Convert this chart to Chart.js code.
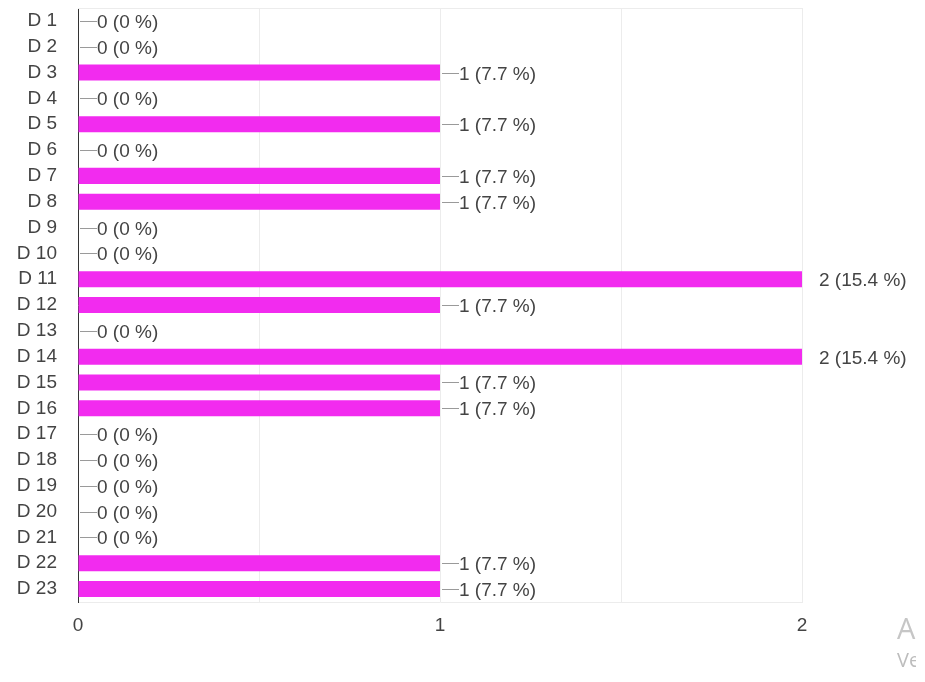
<!DOCTYPE html>
<html>
<head>
<meta charset="utf-8">
<script src="https://cdn.jsdelivr.net/npm/chart.js@4/dist/chart.umd.min.js"></script>
<style>
  html, body { margin: 0; padding: 0; background: #fff; overflow: hidden; }
  #wrap { position: relative; width: 925px; height: 682px; }
  #mark { position: absolute; left: 897px; top: 610px; width: 19px; height: 72px; overflow: hidden;
          font-family: "Open Sans", "DejaVu Sans", sans-serif; white-space: nowrap; }
  #mark .a { font-size: 29px; color: #c6c6c6; line-height: 36px; }
  #mark .b { font-size: 20px; color: #bdbdbd; line-height: 28px; }
</style>
</head>
<body>
<div id="wrap">
  <canvas id="c" width="925" height="682"></canvas>
  <div id="mark"><div class="a">Activar Windows</div><div class="b">Ve a Configuración para activar Windows.</div></div>
</div>
<script>
// Responses per option
const categories = ['D 1','D 2','D 3','D 4','D 5','D 6','D 7','D 8','D 9','D 10','D 11','D 12',
                    'D 13','D 14','D 15','D 16','D 17','D 18','D 19','D 20','D 21','D 22','D 23'];
const counts = [0,0,1,0,1,0,1,1,0,0,2,1,0,2,1,1,0,0,0,0,0,1,1];
const xTickValues = [0, 1, 2];

const total = counts.reduce((a, b) => a + b, 0);
const FAMILY = '"Liberation Sans", Arial, sans-serif';
const FONT = '19px ' + FAMILY;
const TEXT = '#444444';

function pctLabel(v) {
  const p = Math.round(v / total * 1000) / 10;
  return v + ' (' + p + ' %)';
}

// Value labels with short leader lines, plus top frame line
const valueLabels = {
  id: 'valueLabels',
  beforeDatasetsDraw(chart) {
    const { ctx, chartArea } = chart;
    ctx.save();
    ctx.strokeStyle = '#ececec';
    ctx.lineWidth = 1;
    ctx.beginPath();
    ctx.moveTo(chartArea.left, chartArea.top + 0.5);
    ctx.lineTo(chartArea.right, chartArea.top + 0.5);
    ctx.stroke();
    ctx.restore();
  },
  afterDatasetsDraw(chart) {
    const { ctx, chartArea } = chart;
    const meta = chart.getDatasetMeta(0);
    ctx.save();
    ctx.font = FONT;
    ctx.textBaseline = 'middle';
    ctx.textAlign = 'left';
    meta.data.forEach((el, i) => {
      const v = counts[i];
      const x = el.x, y = Math.round(el.y) + 0.5;
      if (x >= chartArea.right - 1) {
        ctx.fillStyle = TEXT;
        ctx.fillText(pctLabel(v), x + 17, y + 1);
      } else {
        ctx.strokeStyle = '#9a9a9a';
        ctx.lineWidth = 1;
        ctx.beginPath();
        ctx.moveTo(x + 2, y);
        ctx.lineTo(x + 19, y);
        ctx.stroke();
        ctx.fillStyle = TEXT;
        ctx.fillText(pctLabel(v), x + 19, y + 1);
      }
    });
    ctx.restore();
  }
};

new Chart(document.getElementById('c'), {
  type: 'bar',
  data: {
    labels: categories,
    datasets: [{
      data: counts,
      backgroundColor: '#f22bef',
      borderWidth: 0,
      barPercentage: 0.62,
      categoryPercentage: 1.0
    }]
  },
  options: {
    indexAxis: 'y',
    responsive: false,
    animation: false,
    devicePixelRatio: 1,
    layout: { padding: { top: 8, right: 123, bottom: 0, left: 0 } },
    plugins: { legend: { display: false }, tooltip: { enabled: false } },
    scales: {
      x: {
        min: 0,
        max: 2,
        afterFit(s) { s.height = 80; s.paddingLeft = 0; s.paddingRight = 0; },
        afterBuildTicks(s) {
          s.ticks = [0, 0.5, 1, 1.5, 2].map(v => ({ value: v }));
        },
        ticks: {
          autoSkip: false,
          maxRotation: 0,
          padding: 12,
          color: TEXT,
          font: { family: FAMILY, size: 19 },
          callback: (v) => xTickValues.includes(v) ? String(v) : ''
        },
        grid: {
          drawTicks: false,
          color: (c) => c.tick && c.tick.value === 0 ? 'rgba(0,0,0,0)' : '#ececec'
        },
        border: { color: '#ececec' }
      },
      y: {
        afterFit(s) { s.width = 78; s.paddingTop = 0; s.paddingBottom = 0; },
        ticks: {
          autoSkip: false,
          padding: 21,
          color: TEXT,
          font: { family: FAMILY, size: 19 }
        },
        grid: { display: false, drawTicks: false },
        border: { color: '#333333', width: 1 }
      }
    }
  },
  plugins: [valueLabels]
});
</script>
</body>
</html>
